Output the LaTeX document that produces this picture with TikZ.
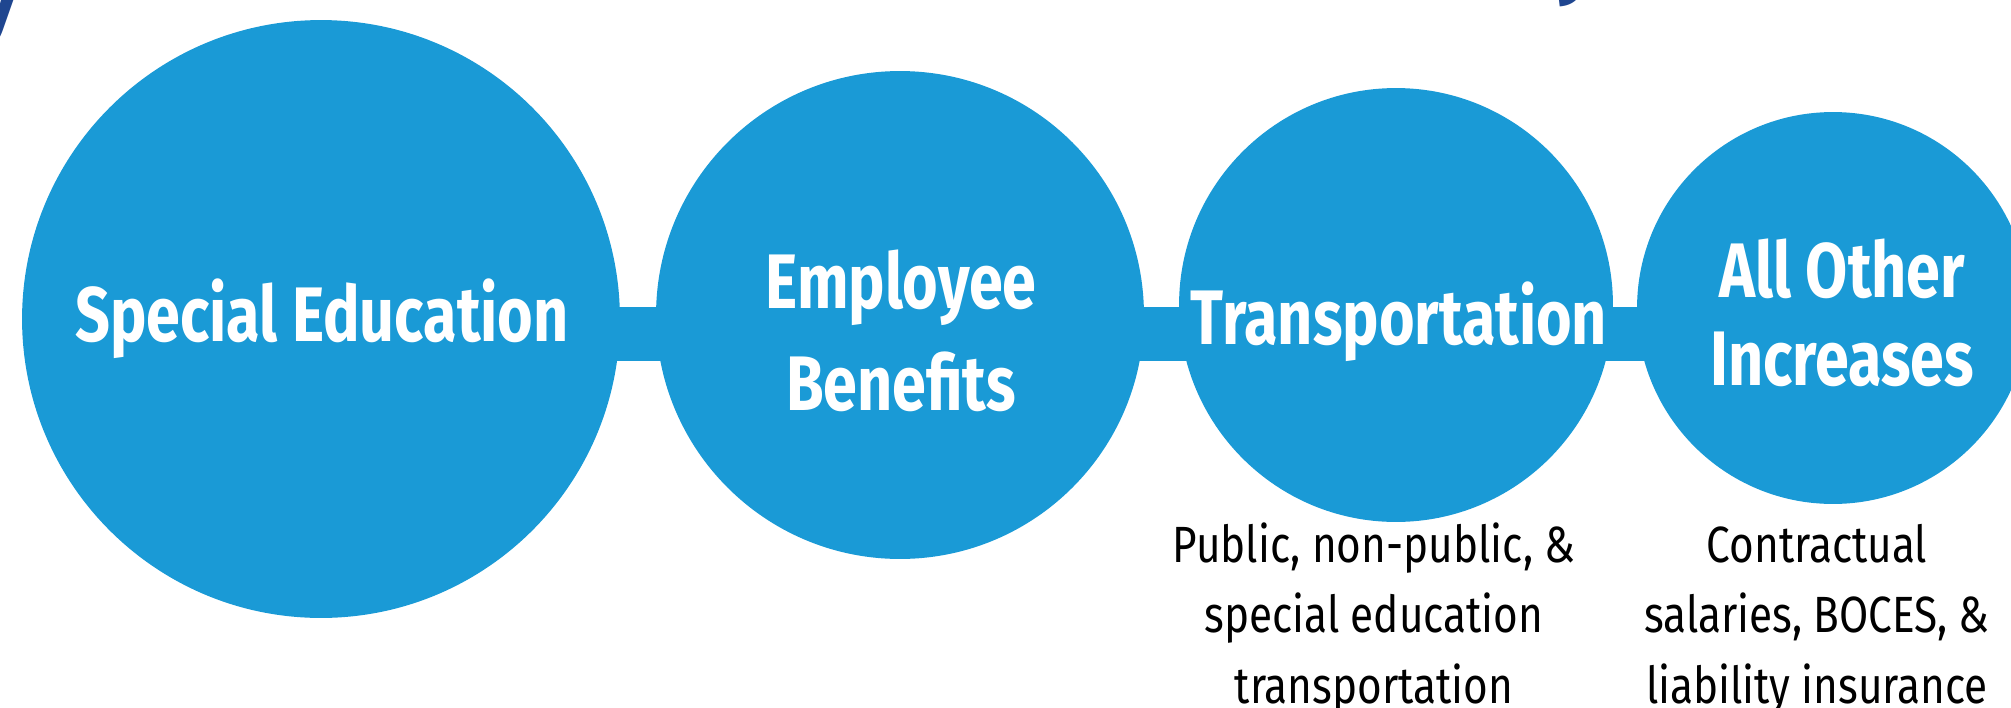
\documentclass[tikz,border=0pt]{standalone}
\usepackage{fontspec}
\setmainfont{Fira Sans}
\newfontfamily\labfont[FakeStretch=0.79]{Fira Sans}
\newfontfamily\notefont[FakeStretch=0.83]{Fira Sans}
\newfontfamily\headfont[FakeStretch=0.8]{Fira Sans}
\usepackage{xcolor}
\definecolor{bubbleblue}{HTML}{1A9AD6}
\definecolor{titleblue}{HTML}{1F4690}

\begin{document}
\begin{tikzpicture}[x=0.02cm,y=-0.02cm,
  bubble/.style={circle,fill=bubbleblue,inner sep=0pt},
  bubbletext/.style={text=white,align=center,anchor=base,
    font=\labfont\bfseries\fontsize{44}{58}\selectfont},
  notetext/.style={text=black,align=center,anchor=base,
    font=\notefont\fontsize{29}{40}\selectfont},
  link/.style={draw=bubbleblue,line width=1.08cm}]
\useasboundingbox (0,0) rectangle (2011,707);

% cut off title letters
\node[anchor=base east,inner sep=0pt,text=titleblue,
  font=\headfont\bfseries\itshape\fontsize{60}{70}\selectfont] (titleleft) at (20,30) {y};
\node[anchor=base east,inner sep=0pt,text=titleblue,
  font=\headfont\bfseries\fontsize{60}{70}\selectfont] (titleright) at (1600,-17) {y};

% bubbles
\node[bubble,minimum size=11.96cm] (specialed) at (321,319) {};
\node[bubble,minimum size=9.76cm] (benefits) at (900,315) {};
\node[bubble,minimum size=8.68cm] (transport) at (1396,305) {};
\node[bubble,minimum size=7.84cm] (others) at (1833,308) {};

% bars between the bubbles
\coordinate (barline) at (0,334);
\draw[link] (specialed.center |- barline) -- (benefits.center |- barline);
\draw[link] (benefits.center |- barline) -- (transport.center |- barline);
\draw[link] (transport.center |- barline) -- (others.center |- barline);

% labels (base = last line)
\node[bubbletext] (specialedtext) at (322,341) {Special Education};
\node[bubbletext] (benefitstext) at (901,410) {Employee\\Benefits};
\node[bubbletext] (transporttext) at (1399,344) {Transportation};
\node[bubbletext,font=\labfont\bfseries\fontsize{44}{50}\selectfont] (otherstext) at (1842,385) {All Other\\Increases};

\node[notetext] (transportnote) at (1374,703) {Public, non-public, \&\\special education\\transportation};
\node[notetext] (othersnote) at (1817,703) {Contractual\\salaries, BOCES, \&\\liability insurance};
\end{tikzpicture}
\end{document}
